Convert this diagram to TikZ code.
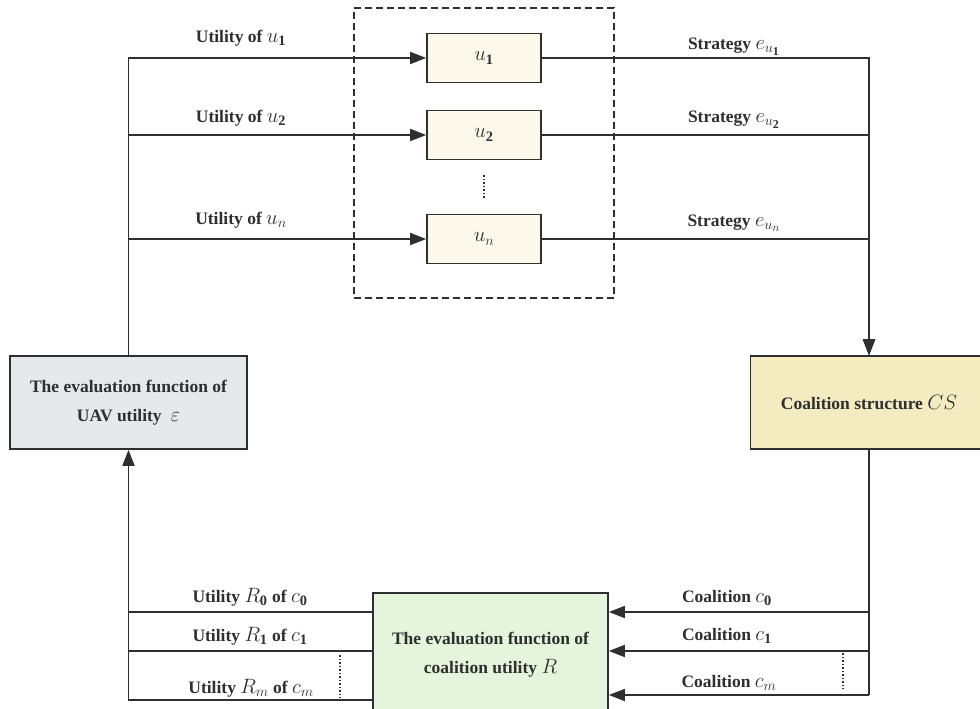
\documentclass[tikz,border=0pt]{standalone}
\usepackage{fontspec}
\setmainfont{Liberation Serif}
\DeclareMathSizes{17.5}{20.74}{14.4}{12}
\usetikzlibrary{arrows.meta}
\definecolor{ln}{HTML}{2F2F2F}
\definecolor{uavfill}{HTML}{E6E9EC}
\definecolor{csfill}{HTML}{F5EBC1}
\definecolor{ufill}{HTML}{FCF8EA}
\definecolor{rfill}{HTML}{E4F5DC}
\tikzset{
  box/.style={draw=ln, line width=1.6pt, rectangle, inner sep=0pt, align=center,
    font=\fontsize{17.5}{29}\selectfont\bfseries, text=ln},
  ubox/.style={box, fill=ufill, minimum width=114pt, minimum height=49pt},
  bigbox/.style={box, minimum width=237pt, minimum height=93pt},
  lbl/.style={font=\fontsize{17.5}{20}\selectfont\bfseries, text=ln, inner sep=0pt},
  conn/.style={draw=ln, line width=1.6pt},
  arr/.style={conn, -{Triangle[length=16pt,width=12pt]}},
  dots/.style={draw=ln, line width=1.5pt, dash pattern=on 1.5pt off 2pt}
}
\begin{document}
\begin{tikzpicture}[x=1pt,y=-1pt]
\useasboundingbox (0,0) rectangle (980,709);
\clip (0,0) rectangle (980,709);
\fill[white] (0,0) rectangle (980,709);
% group box
\node[draw=ln, line width=1.5pt, dash pattern=on 7pt off 4pt, minimum width=260pt, minimum height=290pt, inner sep=0pt] (grp) at (484,153) {};
% agent boxes
\node[ubox] (u1) at (484,58) {$u_{\mathbf{1}}$};
\node[ubox] (u2) at (484,135) {$u_{\mathbf{2}}$};
\node[ubox] (un) at (484,239) {$u_n$};
\draw[dots] (484,175) -- (484,198);
% main boxes
\node[bigbox, fill=uavfill] (uav) at (128.5,402.5) {The evaluation function of\\UAV utility \ $\varepsilon$};
\node[bigbox, fill=csfill] (cs) at (869,402.5) {Coalition structure $CS$};
\node[box, fill=rfill, minimum width=235pt, minimum height=124pt] (R) at (490.5,655) {The evaluation function of\\coalition utility $R$};
% top connectors
\draw[arr] (uav.north) |- (u1.west);
\draw[arr] (uav.north) |- (u2.west);
\draw[arr] (uav.north) |- (un.west);
\draw[arr] (u1.east) -| (cs.north);
\draw[arr] (u2.east) -| (cs.north);
\draw[arr] (un.east) -| (cs.north);
% bottom right connectors
\coordinate (cr0) at (869,612);
\coordinate (cr1) at (869,651);
\coordinate (cr2) at (869,695);
\draw[conn] (cs.south) -- (cr2);
\draw[arr] (cr0) -- (R.east |- cr0);
\draw[arr] (cr1) -- (R.east |- cr1);
\draw[arr] (cr2) -- (R.east |- cr2);
% bottom left connectors
\coordinate (cl0) at (128.5,612);
\coordinate (cl1) at (128.5,651);
\coordinate (cl2) at (128.5,700);
\draw[conn] (R.west |- cl0) -- (cl0);
\draw[conn] (R.west |- cl1) -- (cl1);
\draw[arr] (R.west |- cl2) -- (cl2) -- (uav.south);
\draw[dots] (340,655) -- (340,698);
\draw[dots] (843,653) -- (843,689);
% labels
\node[lbl] (l1) at (241,38) {Utility of $u_{\mathbf{1}}$};
\node[lbl] (l2) at (241,118) {Utility of $u_{\mathbf{2}}$};
\node[lbl] (l3) at (241,220) {Utility of $u_n$};
\node[lbl] (s1) at (734,47) {Strategy $e_{u_{\mathbf{1}}}$};
\node[lbl] (s2) at (734,120) {Strategy $e_{u_{\mathbf{2}}}$};
\node[lbl] (s3) at (734,223) {Strategy $e_{u_n}$};
\node[lbl] (b1) at (250,597) {Utility $R_{\mathbf{0}}$ of $c_{\mathbf{0}}$};
\node[lbl] (b2) at (250,636) {Utility $R_{\mathbf{1}}$ of $c_{\mathbf{1}}$};
\node[lbl] (b3) at (251,688) {Utility $R_m$ of $c_m$};
\node[lbl] (c1) at (727,598) {Coalition $c_{\mathbf{0}}$};
\node[lbl] (c2) at (727,636) {Coalition $c_{\mathbf{1}}$};
\node[lbl] (c3) at (729,683) {Coalition $c_m$};
\end{tikzpicture}
\end{document}
